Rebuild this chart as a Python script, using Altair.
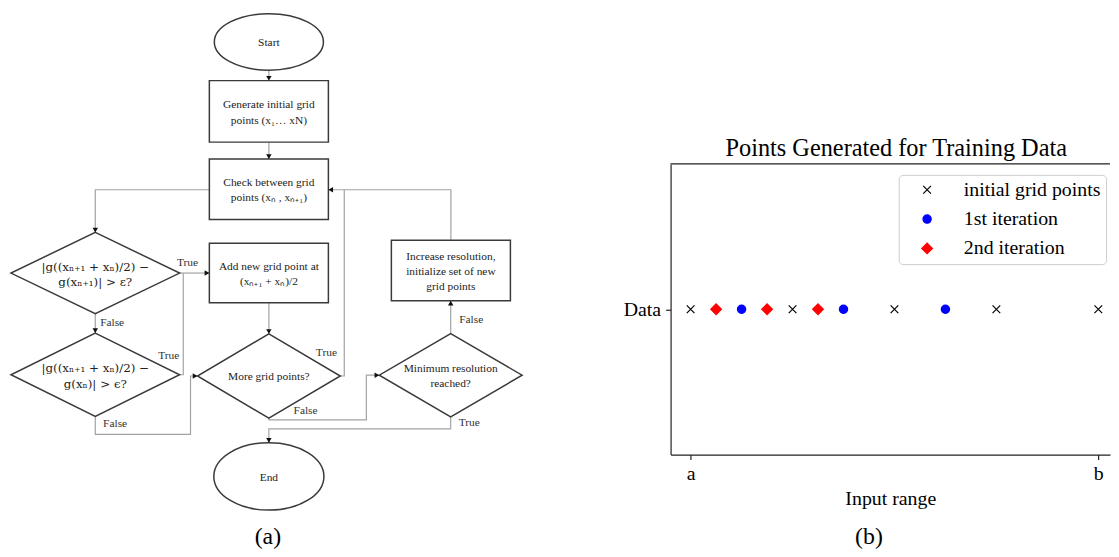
import math
import altair as alt
import pandas as pd

FONT = "Liberation Serif"
MATH_FONT = "DejaVu Serif"

# ================= Panel (b): points generated for training data =================
series_names = ["initial grid points", "1st iteration", "2nd iteration"]
initial_grid_x = [0.0, 0.25, 0.5, 0.75, 1.0]
first_iter_x = [0.125, 0.375, 0.625]
second_iter_x = [0.0625, 0.1875, 0.3125]
row_category = "Data"
x_tick_values = [0, 1]
x_tick_labels = ["a", "b"]
chart_title = "Points Generated for Training Data"
x_title = "Input range"
captions = ["(a)", "(b)"]

# ================= Panel (a): flowchart content =================
node_ids = ["start", "gen", "check", "cond1", "cond2", "add", "more", "minres", "incr", "end"]
node_kind = ["ellipse", "box", "box", "diamond", "diamond", "box", "diamond", "diamond", "box", "ellipse"]
node_text = [
    "Start",
    "Generate initial grid\npoints (x\u2081\u2026 xN)",
    "Check between grid\npoints (x\u2099 , x\u2099\u208a\u2081)",
    "|g((x\u2099\u208a\u2081 + x\u2099)/2) \u2212\ng(x\u2099\u208a\u2081)| > \u03b5?",
    "|g((x\u2099\u208a\u2081 + x\u2099)/2) \u2212\ng(x\u2099)| > \u03f5?",
    "Add new grid point at\n(x\u2099\u208a\u2081 + x\u2099)/2",
    "More grid points?",
    "Minimum resolution\nreached?",
    "Increase resolution,\ninitialize set of new\ngrid points",
    "End",
]
math_nodes = ["cond1", "cond2"]
branch_text = ["True", "False", "True", "False", "True", "False", "False", "True"]

# ---- diagram layout (figure pixel grid) ----
node_cx = [269, 269, 269, 94, 94, 269, 269, 452.3, 452.5, 269]
node_cy = [40, 110, 188.5, 273, 375.5, 273, 376.8, 376, 270.5, 478]
node_w = [110, 120, 120, 170, 170, 120, 144, 144, 120, 111]
node_h = [57, 62, 61, 82, 84, 60, 85, 84, 61, 68]
branch_x = [187, 111, 168, 114, 327, 306, 473, 471]
branch_y = [263, 323, 357, 425, 354, 412, 320, 424]
edge_routes = [
    ([(269, 68.5), (269, 79)], True),
    ([(269, 141), (269, 158)], True),
    ([(209, 189), (94, 189), (94, 232)], True),
    ([(179, 273), (209, 273)], True),
    ([(94, 314), (94, 333.5)], True),
    ([(179, 375.5), (182.7, 375.5), (182.7, 273)], False),
    ([(94, 417.5), (94, 435.7), (190, 435.7), (190, 376.8), (197, 376.8)], True),
    ([(269, 303), (269, 334.3)], True),
    ([(341, 376.8), (345, 376.8), (345, 189)], False),
    ([(452.5, 240), (452.5, 189), (329, 189)], True),
    ([(269, 419.3), (269, 421), (367.3, 421), (367.3, 376), (380.3, 376)], True),
    ([(452.3, 334), (452.3, 301)], True),
    ([(452.3, 418), (452.3, 430), (269, 430), (269, 444)], True),
]
caption_pos = (268, 539)

# ----------------------------------------------------------------
LEFT_W, PANEL_H = 615, 293
X_DOM = [8, 8 + LEFT_W]
Y_DOM = [163, 163 + PANEL_H]
LINE_H = 15.5

nodes = pd.DataFrame(dict(id=node_ids, kind=node_kind, text=node_text,
                          cx=node_cx, cy=node_cy, w=node_w, h=node_h))
nodes["x0"] = nodes.cx - nodes.w / 2
nodes["x1"] = nodes.cx + nodes.w / 2
nodes["y0"] = nodes.cy - nodes.h / 2
nodes["y1"] = nodes.cy + nodes.h / 2
nodes["ty"] = [cy - (t.count("\n")) / 2 * LINE_H + 1.5 for cy, t in zip(nodes.cy, nodes.text)]
nodes["is_math"] = nodes.id.isin(math_nodes)

K = 0.5523


def symbol_path(kind, w, h):
    b = h / w
    if kind == "diamond":
        return f"M0,{-b:.4f}L1,0L0,{b:.4f}L-1,0Z"
    kb = K * b
    return (f"M-1,0C-1,{-kb:.4f} {-K},{-b:.4f} 0,{-b:.4f}C{K},{-b:.4f} 1,{-kb:.4f} 1,0"
            f"C1,{kb:.4f} {K},{b:.4f} 0,{b:.4f}C{-K},{b:.4f} -1,{kb:.4f} -1,0Z")


nodes["path"] = [symbol_path(k, w, h) for k, w, h in zip(nodes.kind, nodes.w, nodes.h)]
nodes["sz"] = nodes.w ** 2

edge_rows, arrow_rows = [], []
ARROW_SIZE = 30
arrow_h = math.sqrt(3) / 2 * math.sqrt(ARROW_SIZE) / 2
for ei, (pts, has_arrow) in enumerate(edge_routes):
    for oi, (px, py) in enumerate(pts):
        edge_rows.append(dict(edge=ei, order=oi, x=px, y=py))
    if has_arrow:
        (ax, ay), (bx, by) = pts[-2], pts[-1]
        dx, dy = bx - ax, by - ay
        L = math.hypot(dx, dy)
        ux, uy = dx / L, dy / L
        if abs(ux) > abs(uy):
            tri = "triangle-right" if ux > 0 else "triangle-left"
        else:
            tri = "triangle-down" if uy > 0 else "triangle-up"
        arrow_rows.append(dict(x=bx - ux * arrow_h, y=by - uy * arrow_h, tri=tri))
edges = pd.DataFrame(edge_rows)
arrows = pd.DataFrame(arrow_rows)
branches = pd.DataFrame(dict(text=branch_text, x=branch_x, y=branch_y))
cap_a = pd.DataFrame(dict(text=[captions[0]], x=[caption_pos[0]], y=[caption_pos[1]]))


def sx(field):
    return alt.X(field, scale=alt.Scale(domain=X_DOM, zero=False, nice=False), axis=None)


def sy(field):
    return alt.Y(field, scale=alt.Scale(domain=Y_DOM, zero=False, nice=False, reverse=True), axis=None)


LINE_C = "#a3a3a3"
SHAPE_C = "#3a3a3a"
TEXT_C = "#222222"

conn = alt.Chart(edges).mark_line(color=LINE_C, strokeWidth=1.2).encode(
    x=sx("x:Q"), y=sy("y:Q"), detail="edge:N", order="order:Q")
boxes = alt.Chart(nodes[nodes.kind == "box"]).mark_rect(
    fill="white", stroke=SHAPE_C, strokeWidth=1.5).encode(
    x=sx("x0:Q"), x2="x1:Q", y=sy("y0:Q"), y2="y1:Q")
syms = alt.Chart(nodes[nodes.kind != "box"]).mark_point(
    fill="white", stroke=SHAPE_C, strokeWidth=1.5, opacity=1, fillOpacity=1).encode(
    x=sx("cx:Q"), y=sy("cy:Q"),
    shape=alt.Shape("path:N", scale=None),
    size=alt.Size("sz:Q", scale=None))
heads = alt.Chart(arrows).mark_point(filled=True, color="#111111", opacity=1, size=ARROW_SIZE).encode(
    x=sx("x:Q"), y=sy("y:Q"), shape=alt.Shape("tri:N", scale=None))
plain_labels = alt.Chart(nodes[~nodes.is_math]).mark_text(
    font=FONT, fontSize=11.5, color=TEXT_C, lineBreak="\n", lineHeight=LINE_H,
    baseline="middle", align="center").encode(
    x=sx("cx:Q"), y=sy("ty:Q"), text="text:N")
math_labels = alt.Chart(nodes[nodes.is_math]).mark_text(
    font=MATH_FONT, fontSize=12, color=TEXT_C, lineBreak="\n", lineHeight=LINE_H,
    baseline="middle", align="center").encode(
    x=sx("cx:Q"), y=sy("ty:Q"), text="text:N")
branch_labels = alt.Chart(branches).mark_text(
    font=FONT, fontSize=11.5, color="#333333", baseline="middle", align="center").encode(
    x=sx("x:Q"), y=sy("y:Q"), text="text:N")
cap_a_mark = alt.Chart(cap_a).mark_text(
    font=FONT, fontSize=24, color="black", baseline="middle", align="center").encode(
    x=sx("x:Q"), y=sy("y:Q"), text="text:N")

left = alt.layer(conn, boxes, syms, heads, plain_labels, math_labels, branch_labels, cap_a_mark).properties(
    width=LEFT_W, height=PANEL_H)

# ---------------- right panel ----------------
RIGHT_W = 443
pts = pd.DataFrame(dict(
    series=[series_names[0]] * len(initial_grid_x) + [series_names[1]] * len(first_iter_x)
    + [series_names[2]] * len(second_iter_x),
    x=initial_grid_x + first_iter_x + second_iter_x,
    row=row_category))

series_colors = ["#000000", "#0000ff", "#ff0000"]
series_shapes = ["M-1,-1L1,1M-1,1L1,-1", "circle", "diamond"]
series_sizes = [60, 70, 115]

label_expr = " : ".join(f"datum.value == {v} ? '{l}'" for v, l in zip(x_tick_values, x_tick_labels)) + " : ''"
unit = 411.0
x_dom = [-20.2 / unit, (RIGHT_W - 20.2) / unit]

leg = alt.Legend(title=None, orient="none", legendX=230, legendY=11, fillColor="white",
                 strokeColor="#cccccc", cornerRadius=4, padding=5, symbolOffset=13.6,
                 labelOffset=27, rowPadding=9.6, labelFont=FONT, labelFontSize=20,
                 labelColor="black", symbolStrokeWidth=1.2, labelLimit=400)

AX_C = "#222222"
points = alt.Chart(pts).mark_point(filled=True, opacity=1, strokeWidth=1.2).encode(
    x=alt.X("x:Q", scale=alt.Scale(domain=x_dom, zero=False, nice=False),
            axis=alt.Axis(values=x_tick_values, labelExpr=label_expr, title=x_title,
                          titleFont=FONT, titleFontSize=20, titleFontWeight="normal", titleColor="black",
                          titlePadding=5, labelFont=FONT, labelFontSize=20, labelColor="black",
                          labelPadding=4, tickSize=5, tickColor=AX_C, tickWidth=1.2,
                          domainColor=AX_C, domainWidth=1.2, grid=False, labelFlush=False)),
    y=alt.Y("row:N", axis=alt.Axis(title=None, labelFont=FONT, labelFontSize=20, labelColor="black",
                                   labelPadding=5, tickSize=5, tickColor=AX_C, tickWidth=1.2,
                                   domainColor=AX_C, domainWidth=1.2, grid=False, labelAngle=0)),
    color=alt.Color("series:N", scale=alt.Scale(domain=series_names, range=series_colors), legend=leg),
    stroke=alt.Stroke("series:N", scale=alt.Scale(domain=series_names, range=series_colors), legend=leg),
    shape=alt.Shape("series:N", scale=alt.Scale(domain=series_names, range=series_shapes), legend=leg),
    size=alt.Size("series:N", scale=alt.Scale(type="ordinal", domain=series_names, range=series_sizes),
                  legend=leg),
)

top_spine = alt.Chart(pd.DataFrame({"z": [0]})).mark_rule(color=AX_C, strokeWidth=1.2).encode(
    x=alt.value(0), x2=alt.value(RIGHT_W), y=alt.value(0))
cap_b = alt.Chart(pd.DataFrame({"text": [captions[1]]})).mark_text(
    font=FONT, fontSize=24, color="black", baseline="middle", align="center").encode(
    text="text:N", x=alt.value(200), y=alt.value(376))

right = alt.layer(top_spine, points, cap_b).properties(
    width=RIGHT_W, height=PANEL_H,
    title=alt.Title(chart_title, font=FONT, fontSize=24.5, fontWeight="normal", color="black",
                    offset=2, dx=6))

chart = alt.hconcat(left, right, spacing=3).resolve_scale(
    color="independent", stroke="independent", shape="independent", size="independent"
).properties(padding=0).configure(font=FONT).configure_view(stroke=None)

chart.save("out.html", embed_options={"renderer": "svg", "actions": False})
